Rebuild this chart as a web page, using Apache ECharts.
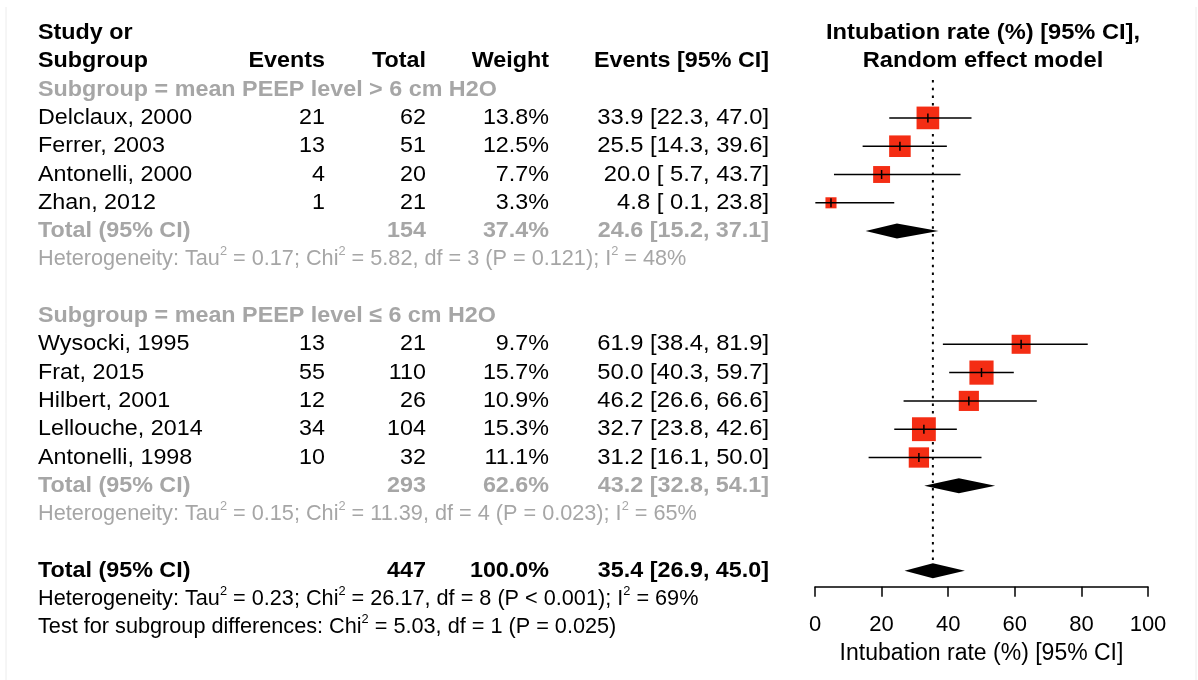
<!DOCTYPE html>
<html><head><meta charset="utf-8">
<script src="https://cdn.jsdelivr.net/npm/echarts@6.0.0/dist/echarts.min.js"></script>
<style>html,body{margin:0;padding:0;background:#fff}#c{width:1198px;height:680px}</style>
</head><body><div id="c"></div>
<script>
// ---------------- data ----------------
const studyHeader = ['Study or', 'Subgroup'];
const columnHeaders = ['Events', 'Total', 'Weight', 'Events [95% CI]'];
const plotTitle = ['Intubation rate (%) [95% CI],', 'Random effect model'];
const axisTitle = 'Intubation rate (%) [95% CI]';
const tickLabels = [0, 20, 40, 60, 80, 100];

const subgroupNames = ['Subgroup = mean PEEP level > 6 cm H2O', 'Subgroup = mean PEEP level \u2264 6 cm H2O'];
const studies = ['Delclaux, 2000', 'Ferrer, 2003', 'Antonelli, 2000', 'Zhan, 2012',
  'Wysocki, 1995', 'Frat, 2015', 'Hilbert, 2001', 'Lellouche, 2014', 'Antonelli, 1998'];
const studyGroup = [0, 0, 0, 0, 1, 1, 1, 1, 1];
const events = [21, 13, 4, 1, 13, 55, 12, 34, 10];
const totals = [62, 51, 20, 21, 21, 110, 26, 104, 32];
const weights = [13.8, 12.5, 7.7, 3.3, 9.7, 15.7, 10.9, 15.3, 11.1];
const estimates = [33.9, 25.5, 20.0, 4.8, 61.9, 50.0, 46.2, 32.7, 31.2];
const lowers = [22.3, 14.3, 5.7, 0.1, 38.4, 40.3, 26.6, 23.8, 16.1];
const uppers = [47.0, 39.6, 43.7, 23.8, 81.9, 59.7, 66.6, 42.6, 50.0];

const subTotals = [154, 293];
const subWeights = [37.4, 62.6];
const subEst = [24.6, 43.2];
const subLower = [15.2, 32.8];
const subUpper = [37.1, 54.1];
const subTau2 = ['0.17', '0.15'];
const subChi2 = ['5.82', '11.39'];
const subDf = [3, 4];
const subP = ['= 0.121', '= 0.023'];
const subI2 = [48, 65];

const overallTotal = 447;
const overallWeight = 100.0;
const overallEst = 35.4;
const overallLower = 26.9;
const overallUpper = 45.0;
const overallTau2 = '0.23';
const overallChi2 = '26.17';
const overallDf = 8;
const overallP = '< 0.001';
const overallI2 = 69;
const testChi2 = '5.03';
const testDf = 1;
const testP = '= 0.025';

// ---------------- layout ----------------
const FONT = '"Liberation Sans", Arial, Helvetica, sans-serif';
const FS = 22;
const GRAY = '#a6a6a6';
const BLACK = '#000000';
const RED = '#f42d14';
const X = {study: 38, events: 325, total: 426, weight: 549, ci: 769, head: 983};

const f1 = v => v.toFixed(1);
const padL = s => (s.length < 4 ? ' ' + s : s);
const ciText = (e, l, h) => f1(e) + ' [' + padL(f1(l)) + ', ' + f1(h) + ']';
const hetText = (tau, chi, df, p, i2) =>
  'Heterogeneity: Tau{s|2} = ' + tau + '; Chi{s|2} = ' + chi + ', df = ' + df + ' (P ' + p + '); I{s|2} = ' + i2 + '%';

const cells = [];
function cell(x, row, text, align, bold, color, rich, sx) {
  cells.push({x, row, text, align, bold, color, rich: !!rich, sx: sx || (rich ? 0.985 : 1.06)});
}

// header
cell(X.study, 0, studyHeader[0], 'left', true, BLACK);
cell(X.study, 1, studyHeader[1], 'left', true, BLACK);
cell(X.events, 1, columnHeaders[0], 'right', true, BLACK);
cell(X.total, 1, columnHeaders[1], 'right', true, BLACK);
cell(X.weight, 1, columnHeaders[2], 'right', true, BLACK);
cell(X.ci, 1, columnHeaders[3], 'right', true, BLACK);
cell(X.head, 0, plotTitle[0], 'center', true, BLACK, false, 1.075);
cell(X.head, 1, plotTitle[1], 'center', true, BLACK, false, 1.075);

const studyRow = [];
const diamondRows = [];
let row = 2;
for (let g = 0; g < subgroupNames.length; g++) {
  cell(X.study, row, subgroupNames[g], 'left', true, GRAY);
  row++;
  for (let i = 0; i < studies.length; i++) {
    if (studyGroup[i] !== g) continue;
    studyRow[i] = row;
    cell(X.study, row, studies[i], 'left', false, BLACK);
    cell(X.events, row, String(events[i]), 'right', false, BLACK);
    cell(X.total, row, String(totals[i]), 'right', false, BLACK);
    cell(X.weight, row, f1(weights[i]) + '%', 'right', false, BLACK);
    cell(X.ci, row, ciText(estimates[i], lowers[i], uppers[i]), 'right', false, BLACK, false, 1.08);
    row++;
  }
  diamondRows.push(row);
  cell(X.study, row, 'Total (95% CI)', 'left', true, GRAY);
  cell(X.total, row, String(subTotals[g]), 'right', true, GRAY);
  cell(X.weight, row, f1(subWeights[g]) + '%', 'right', true, GRAY);
  cell(X.ci, row, ciText(subEst[g], subLower[g], subUpper[g]), 'right', true, GRAY);
  row++;
  cell(X.study, row, hetText(subTau2[g], subChi2[g], subDf[g], subP[g], subI2[g]), 'left', false, GRAY, true);
  row += 2;
}
const overallRow = row;
diamondRows.push(row);
cell(X.study, row, 'Total (95% CI)', 'left', true, BLACK);
cell(X.total, row, String(overallTotal), 'right', true, BLACK);
cell(X.weight, row, f1(overallWeight) + '%', 'right', true, BLACK);
cell(X.ci, row, ciText(overallEst, overallLower, overallUpper), 'right', true, BLACK);
row++;
cell(X.study, row, hetText(overallTau2, overallChi2, overallDf, overallP, overallI2), 'left', false, BLACK, true);
row++;
cell(X.study, row, 'Test for subgroup differences: Chi{s|2} = ' + testChi2 + ', df = ' + testDf + ' (P ' + testP + ')', 'left', false, BLACK, true);

const ROWH = 28.3;
const TOP = 4.7;
const AXIS_ROW = 19.57;

const chart = echarts.init(document.getElementById('c'), null, {renderer: 'canvas'});

const diamondData = [
  [subEst[0], diamondRows[0], subLower[0], subUpper[0]],
  [subEst[1], diamondRows[1], subLower[1], subUpper[1]],
  [overallEst, diamondRows[2], overallLower, overallUpper]
];

chart.setOption({
  animation: false,
  backgroundColor: '#ffffff',
  grid: [
    {left: 0, width: 1198, top: TOP, height: ROWH * 23},
    {left: 815, width: 333, top: TOP, height: ROWH * (AXIS_ROW + 1)}
  ],
  xAxis: [
    {gridIndex: 0, type: 'value', min: 0, max: 1198, show: false},
    {gridIndex: 1, type: 'value', min: 0, max: 100, interval: 20, position: 'bottom',
     axisLine: {show: true, onZero: false, lineStyle: {color: BLACK, width: 1.5}},
     axisTick: {show: true, length: 10, lineStyle: {color: BLACK, width: 1.5}},
     splitLine: {show: false},
     axisLabel: {color: BLACK, fontFamily: FONT, fontSize: FS, margin: 27,
       formatter: v => String(tickLabels[tickLabels.indexOf(v)])},
     name: axisTitle, nameLocation: 'middle', nameGap: 55,
     nameTextStyle: {color: BLACK, fontFamily: FONT, fontSize: 23}}
  ],
  yAxis: [
    {gridIndex: 0, type: 'value', min: -1, max: 22, inverse: true, show: false},
    {gridIndex: 1, type: 'value', min: -1, max: AXIS_ROW, inverse: true, show: false}
  ],
  graphic: [
    {type: 'line', shape: {x1: 6, y1: 7, x2: 6, y2: 680}, style: {stroke: '#ececec', lineWidth: 1}},
    {type: 'line', shape: {x1: 1196, y1: 7, x2: 1196, y2: 680}, style: {stroke: '#ececec', lineWidth: 1}}
  ],
  series: [
    {
      type: 'custom', xAxisIndex: 0, yAxisIndex: 0, clip: false, silent: true,
      data: cells.map(c => [c.x, c.row]),
      renderItem: (params, api) => {
        const c = cells[params.dataIndex];
        const p = api.coord([c.x, c.row]);
        const style = {
          text: c.text, x: 0, y: 0, align: c.align, verticalAlign: 'middle',
          fontFamily: FONT, fontSize: FS, fontWeight: c.bold ? 'bold' : 'normal',
          fill: c.color
        };
        if (c.rich) {
          style.lineHeight = 28;
          style.rich = {
            s: {fontFamily: FONT, fontSize: 13, fontWeight: 'normal', fill: c.color,
                verticalAlign: 'top', lineHeight: 13}
          };
        }
        return {type: 'text', x: p[0], y: p[1], scaleX: c.sx, scaleY: 1, style};
      }
    },
    {
      type: 'line', xAxisIndex: 1, yAxisIndex: 1, showSymbol: false, silent: true,
      data: [[overallEst, 1.66], [overallEst, overallRow + 0.15]],
      lineStyle: {color: BLACK, width: 2, type: [2.5, 5.2]}, z: 1
    },
    {
      type: 'custom', xAxisIndex: 1, yAxisIndex: 1, clip: false, silent: true, z: 3,
      data: studies.map((s, i) => [estimates[i], studyRow[i], lowers[i], uppers[i], weights[i]]),
      renderItem: (params, api) => {
        const e = api.value(0), r = api.value(1), lo = api.value(2), hi = api.value(3), w = api.value(4);
        const c = api.coord([e, r]);
        const a = api.coord([lo, r]);
        const b = api.coord([hi, r]);
        const side = 6.1 * Math.sqrt(w);
        return {type: 'group', children: [
          {type: 'rect', shape: {x: c[0] - side / 2, y: c[1] - side / 2, width: side, height: side}, style: {fill: RED}},
          {type: 'line', shape: {x1: a[0], y1: c[1], x2: b[0], y2: c[1]}, style: {stroke: BLACK, lineWidth: 1.5}},
          {type: 'line', shape: {x1: c[0], y1: c[1] - 4.5, x2: c[0], y2: c[1] + 4.5}, style: {stroke: BLACK, lineWidth: 1.5}}
        ]};
      }
    },
    {
      type: 'custom', xAxisIndex: 1, yAxisIndex: 1, clip: false, silent: true, z: 3,
      data: diamondData,
      renderItem: (params, api) => {
        const e = api.value(0), r = api.value(1), lo = api.value(2), hi = api.value(3);
        const c = api.coord([e, r]);
        const a = api.coord([lo, r]);
        const b = api.coord([hi, r]);
        const h = 7.5;
        return {type: 'polygon', shape: {points: [[a[0], c[1]], [c[0], c[1] - h], [b[0], c[1]], [c[0], c[1] + h]]},
          style: {fill: BLACK}};
      }
    }
  ]
});
</script>
</body></html>
